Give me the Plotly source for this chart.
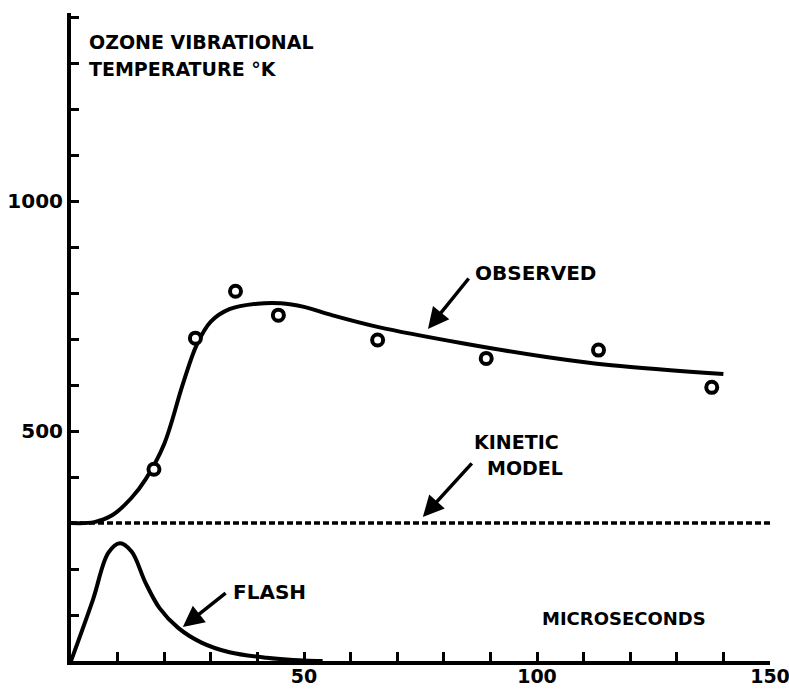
import plotly.graph_objects as go

# Observed ozone vibrational temperature (deg K) vs time (microseconds)
obs_t = [17.8, 26.7, 35.3, 44.5, 65.8, 89.1, 113.2, 137.5]
obs_T = [417, 702, 804, 752, 698, 658, 676, 595]

# Smooth curve drawn through the observations
fit_t = [0, 5, 9, 13, 16, 20, 24, 27, 30, 34, 40, 45, 50, 56, 66, 84, 102, 116, 140]
fit_T = [300, 302, 318, 355, 395, 472, 602, 688, 738, 765, 777, 778, 770, 752, 726, 691, 661, 643, 624]

# Kinetic model prediction (flat)
kin_t = [0, 150]
kin_T = [300, 300]

# Flash intensity profile (arbitrary units on same axis)
flash_t = [0, 4.7, 8.0, 10.5, 13.0, 16.0, 19.0, 23.0, 28.0, 34.0, 42.0, 50.0, 54.0]
flash_v = [0, 133, 235, 256, 238, 170, 115, 72, 40, 19, 7, 1, 0]

x_ticks = [50, 100, 150]
y_ticks = [500, 1000]

FONT = "DejaVu Sans"
INK = "black"

fig = go.Figure()

fig.add_trace(go.Scatter(x=kin_t, y=kin_T, mode="lines",
                         line=dict(color=INK, width=3.5, dash="6px,3px")))
fig.add_trace(go.Scatter(x=fit_t, y=fit_T, mode="lines",
                         line=dict(color=INK, width=4, shape="spline", smoothing=1.0)))
fig.add_trace(go.Scatter(x=flash_t, y=flash_v, mode="lines",
                         line=dict(color=INK, width=4, shape="spline", smoothing=1.0)))
fig.add_trace(go.Scatter(x=obs_t, y=obs_T, mode="markers",
                         marker=dict(symbol="circle", size=11, color="white",
                                     line=dict(color=INK, width=4))))

# Text labels: (text, x, y, xanchor, size)
labels = [
    ("OZONE VIBRATIONAL", 3.4, 1347, "left", 19),
    ("TEMPERATURE °K", 3.4, 1287, "left", 19),
    ("OBSERVED", 99.6, 843, "center", 20),
    ("KINETIC", 95.7, 476, "center", 19),
    ("MODEL", 97.4, 420, "center", 19),
    ("FLASH", 42.5, 150, "center", 20),
    ("MICROSECONDS", 118.7, 93, "center", 18),
]
for txt, lx, ly, anc, sz in labels:
    fig.add_annotation(x=lx, y=ly, text=txt, showarrow=False, xanchor=anc, yanchor="middle",
                       font=dict(family=FONT, size=sz, color=INK, weight="bold"))

# Pointer arrows: (head_x, head_y, tail_x, tail_y)
arrows = [
    (76.6, 722, 85.6, 835),
    (75.5, 313, 86.3, 433),
    (24.0, 74, 33.5, 150),
]
for hx, hy, tx, ty in arrows:
    fig.add_annotation(x=hx, y=hy, ax=tx, ay=ty, xref="x", yref="y", axref="x", ayref="y",
                       text="", showarrow=True, arrowhead=2, arrowsize=1.2, arrowwidth=3.5,
                       arrowcolor=INK, standoff=0, startstandoff=0)

fig.update_layout(
    width=789, height=690,
    margin=dict(l=71, r=19, t=13, b=29),
    paper_bgcolor="white", plot_bgcolor="white",
    showlegend=False,
)
fig.update_xaxes(
    range=[0, 150], showgrid=False, zeroline=False,
    showline=True, linecolor=INK, linewidth=4,
    tickvals=x_ticks, ticks="inside", ticklen=9, tickwidth=3, tickcolor=INK,
    minor=dict(dtick=10, tick0=0, ticks="inside", ticklen=9, tickwidth=3, tickcolor=INK),
    tickfont=dict(family=FONT, size=19, color=INK, weight="bold"),
    ticklabelstandoff=-5, ticklabeloverflow="allow",
    automargin=False,
)
fig.update_yaxes(
    range=[0, 1409], showgrid=False, zeroline=False,
    showline=True, linecolor=INK, linewidth=4,
    tickvals=y_ticks, ticks="inside", ticklen=8, tickwidth=3, tickcolor=INK,
    minor=dict(dtick=100, tick0=0, ticks="inside", ticklen=8, tickwidth=3, tickcolor=INK),
    tickfont=dict(family=FONT, size=20, color=INK, weight="bold"),
    automargin=False,
)

fig.write_html("out.html")
